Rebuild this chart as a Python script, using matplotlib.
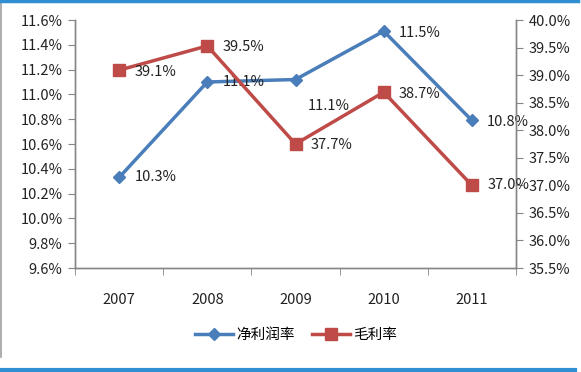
import matplotlib
matplotlib.use("Agg")
import matplotlib.pyplot as plt
from matplotlib.lines import Line2D
from matplotlib.ticker import FuncFormatter, FixedLocator

plt.rcParams['font.family'] = ['Noto Sans CJK SC', 'DejaVu Sans']

years = ['2007', '2008', '2009', '2010', '2011']
net_margin = [10.33, 11.10, 11.12, 11.51, 10.79]     # 净利润率 (%)
gross_margin = [39.09, 39.53, 37.75, 38.69, 37.00]   # 毛利率 (%)
net_labels = ['10.3%', '11.1%', '11.1%', '11.5%', '10.8%']
gross_labels = ['39.1%', '39.5%', '37.7%', '38.7%', '37.0%']
left_ticks = [9.6, 9.8, 10.0, 10.2, 10.4, 10.6, 10.8, 11.0, 11.2, 11.4, 11.6]
right_ticks = [35.5, 36.0, 36.5, 37.0, 37.5, 38.0, 38.5, 39.0, 39.5, 40.0]

blue = '#4a7ebb'
red = '#be4b48'
gray = '#868686'
fs = 10.5

fig = plt.figure(figsize=(5.81, 3.72), dpi=100)
ax = fig.add_axes([75/581, 1-268/372, (516-75)/581, (268-20)/372])
ax2 = ax.twinx()

x = list(range(len(years)))
ax.plot(x, net_margin, color=blue, lw=2.5, marker='D', ms=6, mfc=blue, mec=blue, zorder=3)
ax2.plot(x, gross_margin, color=red, lw=2.5, marker='s', ms=8, mfc=red, mec=red, zorder=3)

ax.set_xlim(-0.5, 4.5)
ax.set_ylim(left_ticks[0], left_ticks[-1])
ax2.set_ylim(right_ticks[0], right_ticks[-1])
ax.set_yticks(left_ticks)
ax2.set_yticks(right_ticks)
ax.yaxis.set_major_formatter(FuncFormatter(lambda v, p: f'{v:.1f}%'))
ax2.yaxis.set_major_formatter(FuncFormatter(lambda v, p: f'{v:.1f}%'))
ax.set_xticks(x)
ax.set_xticklabels(years)
ax.xaxis.set_minor_locator(FixedLocator([i - 0.5 for i in range(len(years) + 1)]))
ax.tick_params(axis='x', which='major', length=0, pad=18, labelsize=fs, colors='#222222')
ax.tick_params(axis='x', which='minor', length=5, color=gray)
ax.tick_params(axis='y', length=5, color=gray, labelsize=fs, labelcolor='#222222', pad=4)
ax2.tick_params(axis='y', length=5, color=gray, labelsize=fs, labelcolor='#222222', pad=4)

for a in (ax, ax2):
    for s in ['top']:
        a.spines[s].set_visible(False)
    for s in ['left', 'right', 'bottom']:
        a.spines[s].set_color(gray)
        a.spines[s].set_linewidth(1)

# data labels
net_offsets = [(11, 0), (11, 0), (9, -19), (11, -1), (11, -1)]
for xi, v, lab, off in zip(x, net_margin, net_labels, net_offsets):
    ax.annotate(lab, (xi, v), xytext=off, textcoords='offset points',
                ha='left', va='center', fontsize=fs, color='#222222', zorder=5)
gross_offsets = [(11, -1), (11, -1), (11, -1), (11, -1), (11, 0)]
for xi, v, lab, off in zip(x, gross_margin, gross_labels, gross_offsets):
    ax2.annotate(lab, (xi, v), xytext=off, textcoords='offset points',
                 ha='left', va='center', fontsize=fs, color='#222222', zorder=5)

handles = [Line2D([], [], color=blue, lw=2.5, marker='D', ms=6),
           Line2D([], [], color=red, lw=2.5, marker='s', ms=8)]
fig.legend(handles, ['净利润率', '毛利率'], loc='center', bbox_to_anchor=(296/581, 1-335/372),
           ncol=2, frameon=False, fontsize=fs, handlelength=2.6, columnspacing=1.2,
           handletextpad=0.2)

# frame decorations
fig.add_artist(Line2D([0.001, 0.001], [1-2/372, 1-357/372], color='#a0a0a0', lw=1.2, transform=fig.transFigure))
fig.add_artist(Line2D([0, 0.995], [1-1/372, 1-1/372], color='#2f8fd0', lw=2.5, transform=fig.transFigure))
fig.add_artist(Line2D([0, 0.99], [1-370/372, 1-370/372], color='#2f8fd0', lw=3, transform=fig.transFigure))

fig.savefig('out.png', dpi=100)
